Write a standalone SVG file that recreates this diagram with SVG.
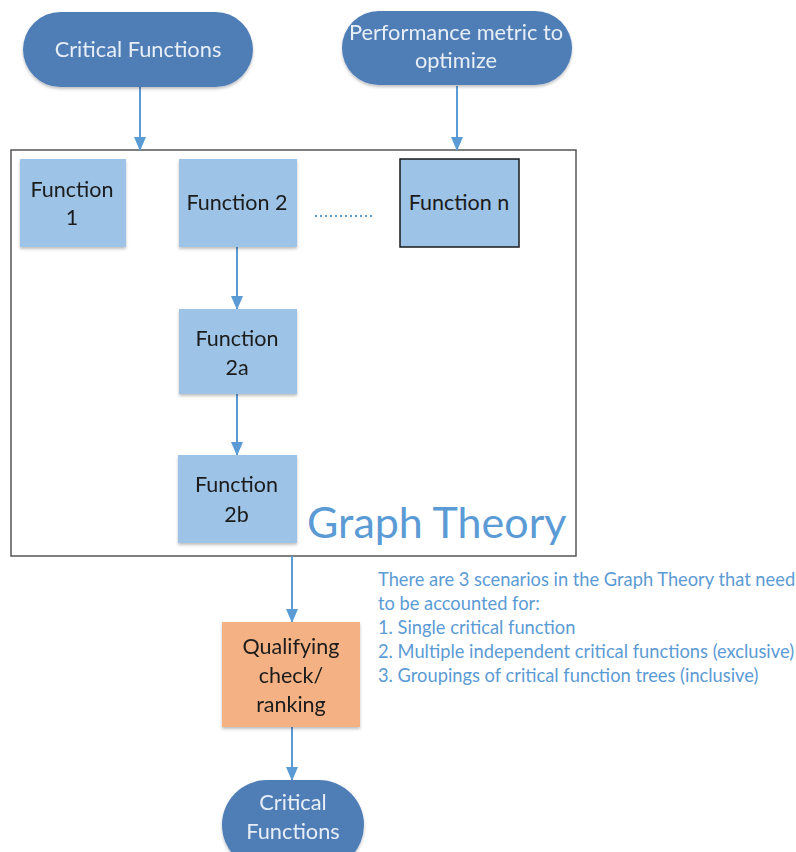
<svg xmlns="http://www.w3.org/2000/svg" width="796" height="852" viewBox="0 0 796 852">
  <defs>
    <style>
      .pill { fill: #4F7EB7; }
      .fn { fill: #9DC3E6; }
      .ptxt { font-family: Lato, "Liberation Sans", sans-serif; font-size: 21.8px; fill: #E8EEF6; text-anchor: middle; }
      .ftxt { font-family: Lato, "Liberation Sans", sans-serif; font-size: 21.5px; fill: #1a1a1a; text-anchor: middle; }
      .note { font-family: Lato, "Liberation Sans", sans-serif; font-size: 18.3px; fill: #5B9BD5; }
      .conn { stroke: #5B9BD5; stroke-width: 2; fill: none; }
    </style>
    <marker id="arrowhead" viewBox="0 0 14 12" refX="13" refY="6" markerWidth="14" markerHeight="12" markerUnits="userSpaceOnUse" orient="auto">
      <path d="M0,0 L14,6 L0,12 Z" fill="#5B9BD5"/>
    </marker>
    <filter id="soft" x="-10%" y="-10%" width="120%" height="130%">
      <feGaussianBlur in="SourceAlpha" stdDeviation="1.5"/>
      <feOffset dx="0" dy="2"/>
      <feComponentTransfer><feFuncA type="linear" slope="0.25"/></feComponentTransfer>
      <feMerge><feMergeNode/><feMergeNode in="SourceGraphic"/></feMerge>
    </filter>
  </defs>

  <!-- Container -->
  <g id="graph-theory">
    <rect x="11" y="150" width="565" height="406" fill="#FFFFFF" stroke="#555555" stroke-width="1.5"/>
    <text x="307" y="538" font-family="Lato, 'Liberation Sans', sans-serif" font-size="43" fill="#5B9BD5">Graph Theory</text>
  </g>

  <!-- Connectors -->
  <g id="connectors">
    <line class="conn" x1="140" y1="87" x2="140" y2="150" marker-end="url(#arrowhead)"/>
    <line class="conn" x1="457" y1="86" x2="457" y2="150" marker-end="url(#arrowhead)"/>
    <line class="conn" x1="237" y1="247" x2="237" y2="309" marker-end="url(#arrowhead)"/>
    <line class="conn" x1="237" y1="394" x2="237" y2="455" marker-end="url(#arrowhead)"/>
    <line class="conn" x1="292" y1="556" x2="292" y2="622" marker-end="url(#arrowhead)"/>
    <line class="conn" x1="292" y1="727" x2="292" y2="780" marker-end="url(#arrowhead)"/>
    <line x1="315" y1="216" x2="372" y2="216" stroke="#5B9BD5" stroke-width="2" stroke-dasharray="2 3"/>
  </g>

  <g id="critical-functions-in" filter="url(#soft)">
    <rect class="pill" x="23" y="12" width="230" height="75" rx="37.5"/>
    <text class="ptxt" x="138" y="57">Critical Functions</text>
  </g>

  <g id="performance-metric" filter="url(#soft)">
    <rect class="pill" x="342" y="11" width="230" height="74" rx="37"/>
    <text class="ptxt" x="456" y="40">Performance metric to</text>
    <text class="ptxt" x="456" y="68">optimize</text>
  </g>

  <g id="function-1" filter="url(#soft)">
    <rect class="fn" x="20" y="159" width="106" height="88"/>
    <text class="ftxt" x="72" y="197">Function</text>
    <text class="ftxt" x="72" y="225">1</text>
  </g>

  <g id="function-2" filter="url(#soft)">
    <rect class="fn" x="179" y="159" width="118" height="88"/>
    <text class="ftxt" x="237" y="210">Function 2</text>
  </g>

  <g id="function-n">
    <rect class="fn" x="400" y="159" width="119" height="88" stroke="#1a1a1a" stroke-width="1.5"/>
    <text class="ftxt" x="459" y="210">Function n</text>
  </g>

  <g id="function-2a" filter="url(#soft)">
    <rect class="fn" x="179" y="309" width="118" height="85"/>
    <text class="ftxt" x="237" y="346">Function</text>
    <text class="ftxt" x="237" y="375">2a</text>
  </g>

  <g id="function-2b" filter="url(#soft)">
    <rect class="fn" x="178" y="455" width="119" height="88"/>
    <text class="ftxt" x="236.5" y="492">Function</text>
    <text class="ftxt" x="236.5" y="522">2b</text>
  </g>

  <g id="qualifying-check" filter="url(#soft)">
    <rect x="222" y="622" width="138" height="105" fill="#F4B183"/>
    <text class="ftxt" x="291" y="654">Qualifying</text>
    <text class="ftxt" x="291" y="683">check/</text>
    <text class="ftxt" x="291" y="712">ranking</text>
  </g>

  <g id="critical-functions-out" filter="url(#soft)">
    <rect class="pill" x="222" y="780" width="142" height="90" rx="45"/>
    <text class="ptxt" x="293" y="810">Critical</text>
    <text class="ptxt" x="293" y="839">Functions</text>
  </g>

  <g id="scenarios-note">
    <text class="note" x="378" y="586">There are 3 scenarios in the Graph Theory that need</text>
    <text class="note" x="378" y="610">to be accounted for:</text>
    <text class="note" x="378" y="634">1. Single critical function</text>
    <text class="note" x="378" y="658">2. Multiple independent critical functions (exclusive)</text>
    <text class="note" x="378" y="682">3. Groupings of critical function trees (inclusive)</text>
  </g>
</svg>
